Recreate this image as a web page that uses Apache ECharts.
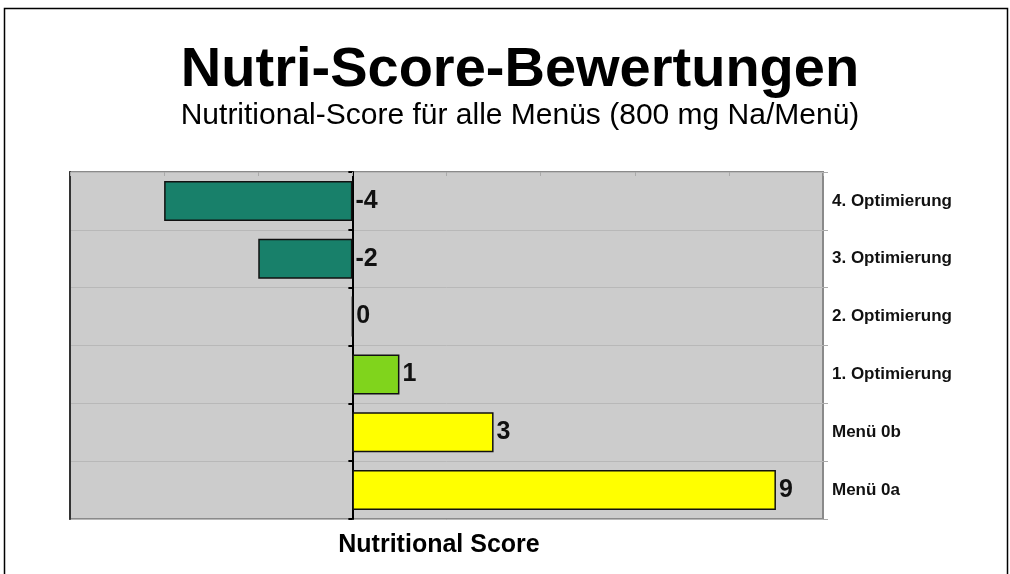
<!DOCTYPE html>
<html>
<head>
<meta charset="utf-8">
<script src="https://cdn.jsdelivr.net/npm/echarts@6/dist/echarts.min.js"></script>
<style>
html,body{margin:0;padding:0;background:#fff;}
#chart{width:1010px;height:574px;}
</style>
</head>
<body>
<div id="chart"></div>
<script>
const categories = ['Menü 0a', 'Menü 0b', '1. Optimierung', '2. Optimierung', '3. Optimierung', '4. Optimierung'];
const scores = [9, 3, 1, 0, -2, -4];
const barColors = ['#ffff00', '#ffff00', '#80d41c', '#80d41c', '#18806a', '#18806a'];
const titleText = 'Nutri-Score-Bewertungen';
const subtitleText = 'Nutritional-Score für alle Menüs (800 mg Na/Menü)';
const axisTitle = 'Nutritional Score';

const chart = echarts.init(document.getElementById('chart'), null, {renderer: 'canvas'});
const font = '"Liberation Sans", Arial, sans-serif';
chart.setOption({
  animation: false,
  backgroundColor: '#ffffff',
  title: [
    {text: titleText, left: 515, top: 38, textAlign: 'center',
     textStyle: {fontFamily: font, fontSize: 56, fontWeight: 'bold', color: '#000'}},
    {text: subtitleText, left: 515, top: 96, textAlign: 'center',
     textStyle: {fontFamily: font, fontSize: 30, fontWeight: 'normal', color: '#000'}},
    {text: axisTitle, left: 434, top: 528, textAlign: 'center',
     textStyle: {fontFamily: font, fontSize: 25, fontWeight: 'bold', color: '#000'}}
  ],
  graphic: [
    {type: 'rect', shape: {x: 4.5, y: 8.5, width: 1003, height: 600},
     style: {fill: 'none', stroke: '#000', lineWidth: 1.5}, silent: true, z: 0}
  ],
  grid: {left: 70, right: 187, top: 172, bottom: 55, show: true,
         backgroundColor: '#cccccc', borderColor: '#8a8a8a', borderWidth: 2},
  xAxis: {
    type: 'value', min: -6, max: 10, interval: 2, position: 'top',
    axisLine: {show: false},
    axisTick: {show: true, inside: true, length: 4, lineStyle: {color: '#aaaaaa'}},
    axisLabel: {show: false},
    splitLine: {show: false}
  },
  yAxis: [
    {type: 'category', data: categories, position: 'left',
     axisLine: {show: true, onZero: true, lineStyle: {color: '#000', width: 2}},
     axisTick: {show: true, length: 4, lineStyle: {color: '#000', width: 2}},
     axisLabel: {show: false},
     splitLine: {show: true, lineStyle: {color: '#b8b8b8', width: 1}}},
    {type: 'category', data: categories, position: 'right',
     axisLine: {show: false, onZero: false},
     axisTick: {show: true, length: 5, lineStyle: {color: '#aaaaaa'}},
     axisLabel: {show: true, margin: 9, fontFamily: font, fontSize: 17, fontWeight: 'bold', color: '#111'},
     splitLine: {show: false}},
    {type: 'category', data: categories, position: 'left', offset: 0,
     axisLine: {show: true, onZero: false, lineStyle: {color: '#333', width: 2}},
     axisTick: {show: false}, axisLabel: {show: false}, splitLine: {show: false}}
  ],
  series: [{
    type: 'bar',
    yAxisIndex: 0,
    barWidth: 40,
    data: scores.map((v, i) => ({value: v, itemStyle: {color: barColors[i]}})),
    itemStyle: {borderColor: '#111', borderWidth: 1.5},
    label: {show: true, position: 'right', distance: 3, fontFamily: font, fontSize: 25,
            fontWeight: 'bold', color: '#111'}
  }]
});
</script>
</body>
</html>
